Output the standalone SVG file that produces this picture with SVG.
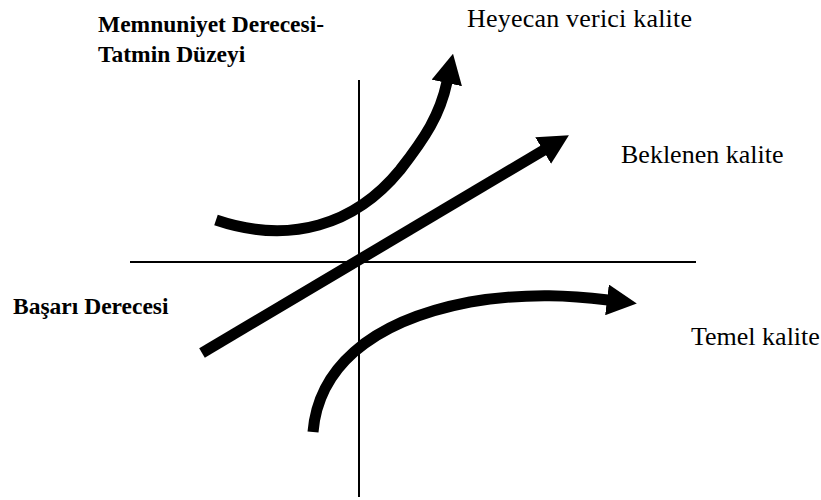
<svg xmlns="http://www.w3.org/2000/svg" width="821" height="500" viewBox="0 0 821 500">
<style>
.axis{stroke:#000;stroke-width:2;fill:none}
.curve{stroke:#000;stroke-width:11;fill:none;marker-end:url(#ah)}
.lbl{font-family:"Liberation Serif","Times New Roman",serif;font-size:26px;fill:#000}
.bold{font-weight:bold;font-size:23.5px}
</style>
<defs>
<marker id="ah" markerUnits="userSpaceOnUse" markerWidth="31" markerHeight="31" viewBox="0 0 31 31" refX="1" refY="15.5" orient="auto">
<path d="M0,0 L30,15.5 L0,31 z" fill="#000"/>
</marker>
</defs>
<rect width="821" height="500" fill="#fff"/>
<g id="axes">
<line class="axis" x1="359" y1="80" x2="359" y2="497"/>
<line class="axis" x1="130" y1="262" x2="696" y2="262"/>
</g>
<g id="connectors">
<path id="heyecan-curve" class="curve" stroke-width="10" d="M216,220 C290,245 355,225 400,170 C425,138 440,115 447,82"/>
<path id="beklenen-line" class="curve" d="M202,353 L544,150"/>
<path id="temel-curve" class="curve" d="M313,432 C318,372 365,322 470,302 C530,292 575,296 608,300"/>
</g>
<g id="label-y">
<text class="lbl bold" x="98" y="32">Memnuniyet Derecesi-</text>
<text class="lbl bold" x="98" y="62">Tatmin Düzeyi</text>
</g>
<g id="label-x"><text class="lbl bold" x="13" y="314">Başarı Derecesi</text></g>
<g id="heyecan"><text class="lbl" x="467" y="27" textLength="225">Heyecan verici kalite</text></g>
<g id="beklenen"><text class="lbl" x="621" y="163">Beklenen kalite</text></g>
<g id="temel"><text class="lbl" x="691" y="345">Temel kalite</text></g>
</svg>
